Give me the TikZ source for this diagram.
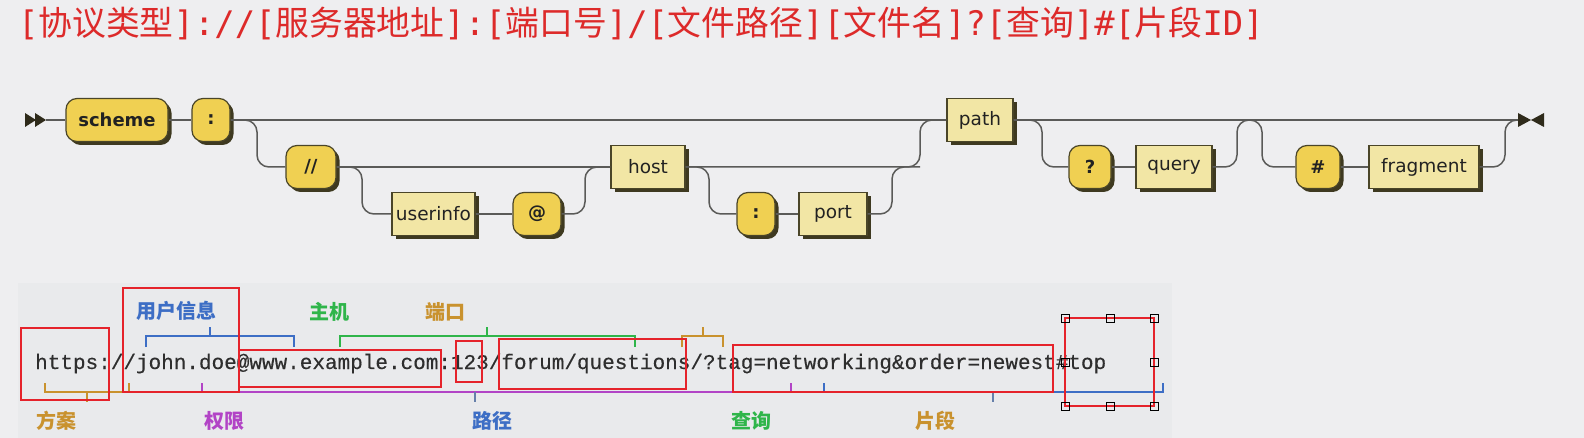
\documentclass[tikz,border=0pt]{standalone}
\usepackage{fontspec}
\setmainfont{DejaVu Sans}
\newfontfamily\cjk{Noto Sans CJK SC}
\newfontfamily\monoA{DejaVu Sans Mono}
\newfontfamily\codefont[FakeBold=0.4]{Liberation Mono}
\usetikzlibrary{shadows}
\definecolor{bgc}{HTML}{EEEEF0}
\definecolor{panelc}{HTML}{E9EAEC}
\definecolor{topred}{HTML}{DD2A2A}
\definecolor{railc}{HTML}{5A5A58}
\definecolor{boxline}{HTML}{4A4528}
\definecolor{termfill}{HTML}{F0D052}
\definecolor{ntfill}{HTML}{F2E6A5}
\definecolor{shadowc}{HTML}{3E3920}
\definecolor{txtc}{HTML}{222222}
\definecolor{markc}{HTML}{2E2A1A}
\definecolor{ublue}{HTML}{3D6EC5}
\definecolor{ugreen}{HTML}{2FB54A}
\definecolor{uorange}{HTML}{C9922E}
\definecolor{upurple}{HTML}{B244C6}
\definecolor{ugray}{HTML}{6680AA}
\definecolor{annred}{HTML}{E5232B}
\definecolor{urlc}{HTML}{2E2E2E}
\newcommand\tm[1]{{\monoA #1}}
\tikzset{
  term/.style={draw=boxline, fill=termfill, line width=1.2, rounded corners=11,
    minimum height=43, inner sep=0, text=txtc, font=\fontsize{18}{21}\selectfont\bfseries,
    drop shadow={shadow xshift=3.5pt, shadow yshift=-3.5pt, fill=shadowc, opacity=1}},
  nonterm/.style={draw=boxline, fill=ntfill, line width=1.2,
    minimum height=43, inner sep=0, text=txtc, font=\fontsize{18.5}{21}\selectfont,
    drop shadow={shadow xshift=3.5pt, shadow yshift=-3.5pt, fill=shadowc, opacity=1}},
  rail/.style={draw=railc, line width=1.5},
  rc/.style={rounded corners=12},
  lbl/.style={font=\fontsize{20}{24}\selectfont\cjk\bfseries, inner sep=0},
  brk/.style={line width=1.5},
  ann/.style={draw=annred, line width=2.6},
}
\begin{document}
\begin{tikzpicture}[x=1pt,y=-1pt]
\fill[bgc] (0,0) rectangle (1584,438);
\useasboundingbox (0,0) rectangle (1584,438);
\fill[panelc] (18,283) rectangle (1172,438);

% title
\node[anchor=base west, inner sep=0, text=topred, font=\fontsize{33.8}{40}\selectfont\cjk] (title) at (18,36)
 {\tm{[}协议类型\tm{]://[}服务器地址\tm{]:[}端口号\tm{]/[}文件路径\tm{][}文件名\tm{]?[}查询\tm{]\#[}片段\tm{ID]}};

% railroad nodes
\node[term, minimum width=102] (scheme) at (117,120) {scheme};
\node[term, minimum width=38] (col1) at (211,120) {:};
\node[term, minimum width=50] (dd) at (311,167) {//};
\node[nonterm, minimum width=83] (ui) at (433.5,214) {userinfo};
\node[term, minimum width=48] (at) at (537,214) {@};
\node[nonterm, minimum width=74] (host) at (648,167) {host};
\node[term, minimum width=38] (col2) at (756,214) {:};
\node[nonterm, minimum width=68] (port) at (833,214) {port};
\node[nonterm, minimum width=66] (path) at (980,120) {path};
\node[term, minimum width=42] (q) at (1090,167) {?};
\node[nonterm, minimum width=76] (query) at (1174,167) {query};
\node[term, minimum width=44] (hash) at (1318,167) {\#};
\node[nonterm, minimum width=110] (frag) at (1424,167) {fragment};

\coordinate (startm) at (46,120);
\coordinate (endm) at (1518,120);
\coordinate (vA) at (257,120);
\coordinate (vB) at (362,167);
\coordinate (vC) at (585,167);
\coordinate (vD) at (709,167);
\coordinate (vE) at (920,167);
\coordinate (vF) at (892,167);
\coordinate (vG) at (1042,120);
\coordinate (vH) at (1237,120);
\coordinate (vI) at (1262,120);
\coordinate (vJ) at (1505,120);

% markers
\fill[markc] (25,113) -- (36,120) -- (25,127) -- cycle;
\fill[markc] (35,113) -- (46,120) -- (35,127) -- cycle;
\fill[markc] (1518,113) -- (1531,120) -- (1518,127) -- cycle;
\fill[markc] (1544,113) -- (1531,120) -- (1544,127) -- cycle;

% rails
\draw[rail] (startm) -- (scheme.west);
\draw[rail] (scheme.east) -- (col1.west);
\draw[rail] (col1.east) -- (path.west);
\draw[rail, rc] (col1.east) -- (vA) |- (dd.west);
\draw[rail] (dd.east) -- (host.west);
\draw[rail, rc] (dd.east) -- (vB) |- (ui.west);
\draw[rail] (ui.east) -- (at.west);
\draw[rail, rc] (at.east) -| (vC) -- (host.west);
\draw[rail, rc] (host.east) -- (vE) |- (path.west);
\draw[rail, rc] (host.east) -- (vD) |- (col2.west);
\draw[rail] (col2.east) -- (port.west);
\draw[rail, rc] (port.east) -| (vF) -- (vE);
\draw[rail] (path.east) -- (endm);
\draw[rail, rc] (path.east) -- (vG) |- (q.west);
\draw[rail] (q.east) -- (query.west);
\draw[rail, rc] (query.east) -| (vH) -- (vI) |- (hash.west);
\draw[rail] (hash.east) -- (frag.west);
\draw[rail, rc] (frag.east) -| (vJ) -- (endm);

% URL
\node[anchor=base west, inner sep=0, text=urlc, font=\fontsize{21}{25}\selectfont\codefont] (url) at (35,369)
 {https://john.doe@www.example.com:123/forum/questions/?tag=networking\&order=newest\#top};

% upper brackets
\draw[brk, ublue] (146,347) -- (146,336) -- (294,336) -- (294,347) (210,336) -- (210,327);
\draw[brk, ugreen] (340,347) -- (340,336) -- (635,336) -- (635,347) (487,336) -- (487,327);
\draw[brk, uorange] (682,347) -- (682,336) -- (723,336) -- (723,347) (703,336) -- (703,327);
% lower line
\draw[brk, uorange] (45,383) -- (45,392) -- (129,392) -- (129,383) (87,392) -- (87,402);
\draw[brk, upurple] (129,392) -- (791,392) (202,392) -- (202,383) (791,392) -- (791,383);
\draw[brk, ugray] (475,392) -- (475,402);
\draw[brk, ublue] (791,392) -- (1163,392) -- (1163,383) (824,392) -- (824,383);
\draw[brk, ugray] (993,392) -- (993,402);

% labels
\node[lbl, text=ublue] (l1) at (176,311) {用户信息};
\node[lbl, text=ugreen] (l2) at (329,312) {主机};
\node[lbl, text=uorange] (l3) at (445,312) {端口};
\node[lbl, text=uorange] (l4) at (56,421) {方案};
\node[lbl, text=upurple] (l5) at (224,421) {权限};
\node[lbl, text=ublue] (l6) at (492,421) {路径};
\node[lbl, text=ugreen] (l7) at (751,421) {查询};
\node[lbl, text=uorange] (l8) at (935,421) {片段};

% annotation boxes
\draw[ann] (21,328) rectangle (109,400);
\draw[ann] (123,288) rectangle (239,392);
\draw[ann] (239,350) rectangle (441,387);
\draw[ann] (456,341) rectangle (482,382);
\draw[ann] (499,339) rectangle (686,389);
\draw[ann] (733,345) rectangle (1053,392);
\draw[ann] (1065,318) rectangle (1154,406);
\foreach \hx/\hy in {1065/318,1110/318,1154/318,1065/362,1154/362,1065/406,1110/406,1154/406}
  \draw[black, line width=0.9] (\hx-4,\hy-4) rectangle (\hx+4,\hy+4);
\end{tikzpicture}
\end{document}
